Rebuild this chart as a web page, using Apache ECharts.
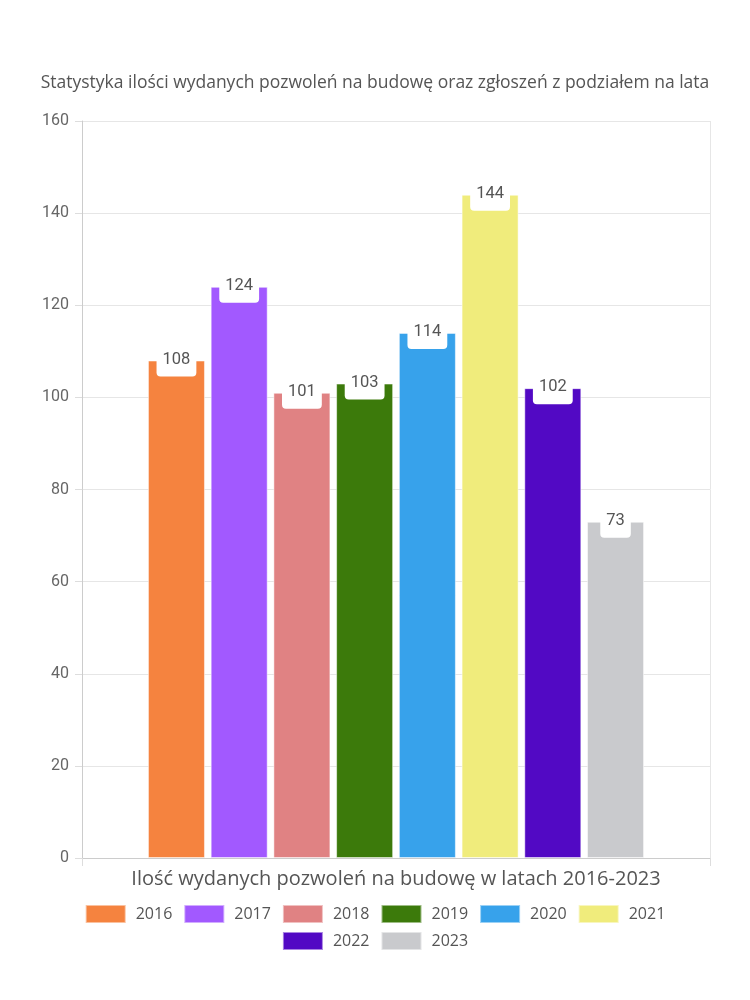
<!DOCTYPE html>
<html><head><meta charset="utf-8">
<script src="https://cdn.jsdelivr.net/npm/echarts@6/dist/echarts.min.js"></script>
<style>html,body{margin:0;padding:0;background:#fff}#c{width:750px;height:1000px}</style>
</head><body><div id="c"></div>
<script>
const categories = ['Ilość wydanych pozwoleń na budowę w latach 2016-2023'];
const years = ['2016','2017','2018','2019','2020','2021','2022','2023'];
const values = [108, 124, 101, 103, 114, 144, 102, 73];
const colors = ['#F5833F','#A259FF','#E08283','#3C7A0B','#37A2EB','#F0EC7C','#5209C4','#C9CACD'];
const yTicks = {min: 0, max: 160, interval: 20};

const chart = echarts.init(document.getElementById('c'));
const series = years.map((y, i) => ({
  name: y,
  type: 'bar',
  data: [values[i]],
  barGap: '10%',
  barCategoryGap: '21%',
  itemStyle: {color: colors[i], borderColor: 'rgba(255,255,255,0.5)', borderWidth: 1},
  label: {
    show: true, position: 'top', distance: 0, offset: [0, 16],
    color: '#555', fontSize: 16.5, fontFamily: 'Roboto',
    backgroundColor: '#fff', borderRadius: 4,
    padding: [4, 6, 8, 6], lineHeight: 18
  }
}));
const legendBase = {
  left: 'center', itemWidth: 40, itemHeight: 18, itemGap: 11, icon: 'rect',
  textStyle: {color: '#555', fontSize: 16, fontFamily: 'Open Sans', padding: [0, 0, 0, 5]}
};
chart.setOption({
  animation: false,
  textStyle: {fontFamily: 'Open Sans'},
  title: {
    text: 'Statystyka ilości wydanych pozwoleń na budowę oraz zgłoszeń z podziałem na lata',
    left: 'center', top: 69,
    textStyle: {color: '#555', fontSize: 17.5, fontWeight: 'normal', fontFamily: 'Open Sans'}
  },
  grid: {left: 82, right: 40, top: 121, bottom: 142},
  xAxis: {
    type: 'category', data: categories,
    axisLine: {lineStyle: {color: '#ccc'}},
    axisTick: {show: true, length: 8, lineStyle: {color: '#ddd'}},
    splitLine: {show: true, lineStyle: {color: '#e6e6e6'}},
    axisLabel: {color: '#555', fontSize: 20, margin: 11, fontFamily: 'Open Sans'}
  },
  yAxis: {
    type: 'value', min: yTicks.min, max: yTicks.max, interval: yTicks.interval,
    axisLine: {show: true, lineStyle: {color: '#ccc'}},
    axisTick: {show: true, length: 7, lineStyle: {color: '#ddd'}},
    splitLine: {lineStyle: {color: '#e6e6e6'}},
    axisLabel: {color: '#666', fontSize: 16, margin: 13, fontFamily: 'Roboto'}
  },
  legend: [
    Object.assign({}, legendBase, {data: years.slice(0, 6), top: 899}),
    Object.assign({}, legendBase, {data: years.slice(6), top: 926})
  ],
  series: series
});
</script></body></html>
